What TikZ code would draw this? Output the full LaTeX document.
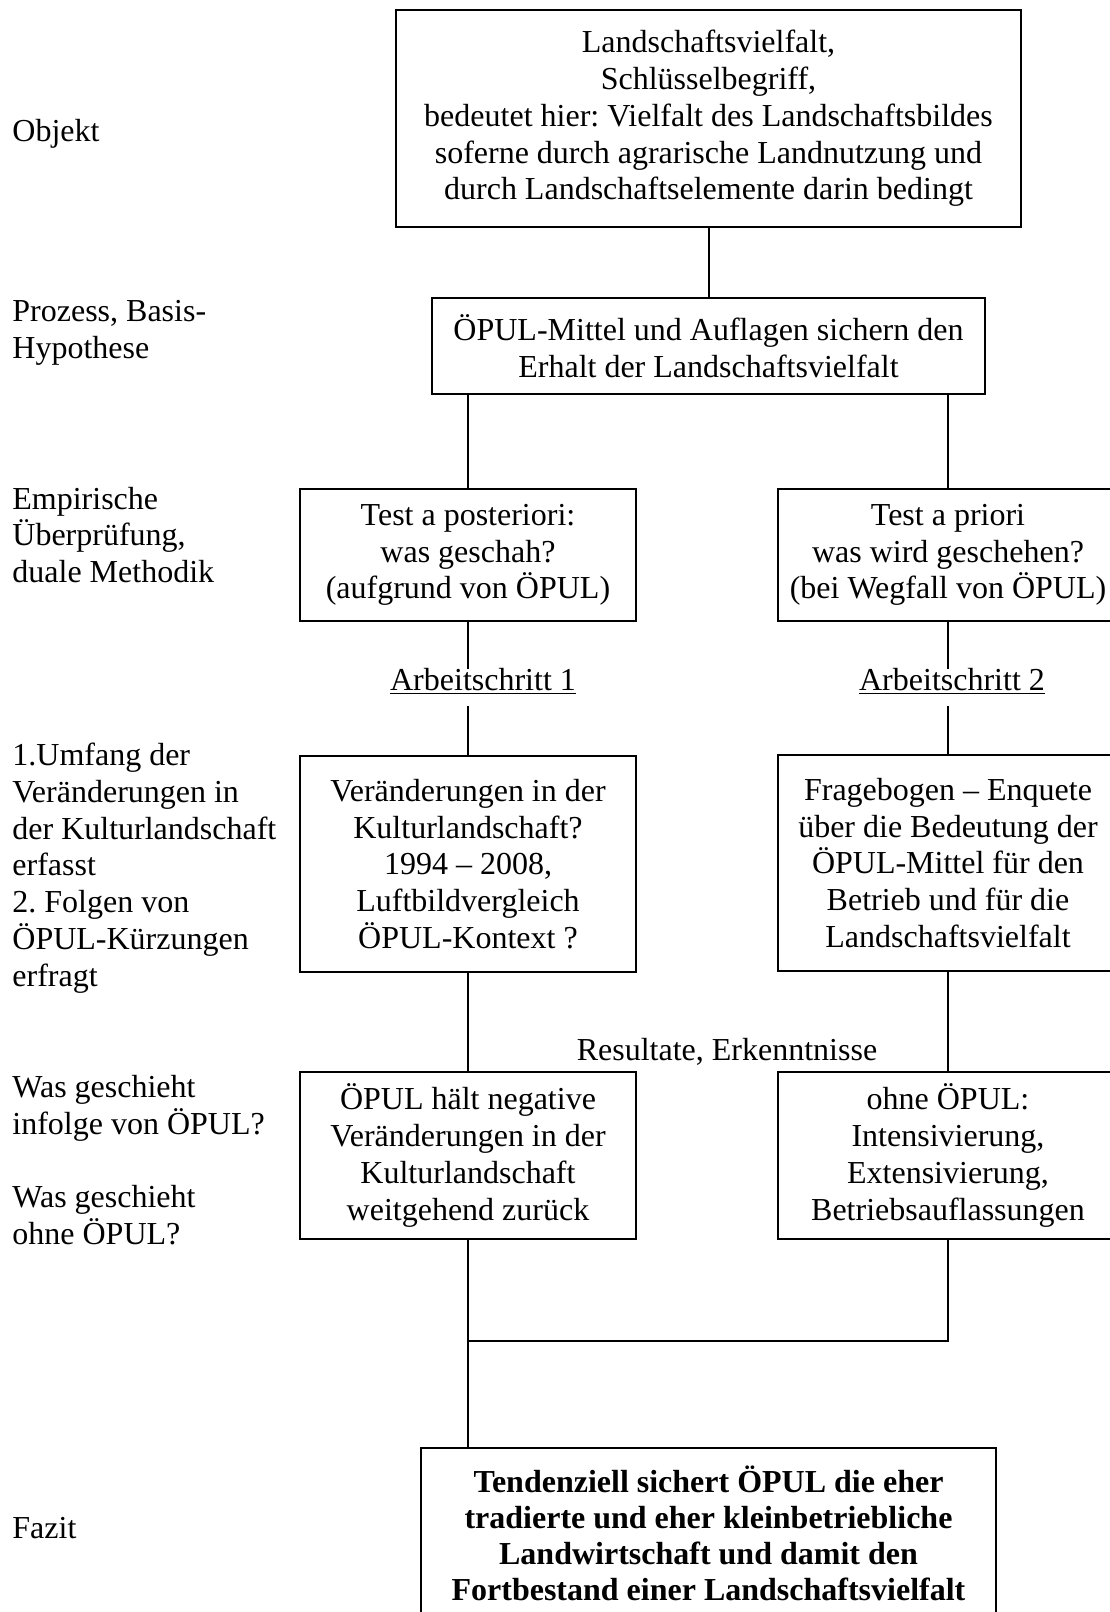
\documentclass[tikz,border=0pt]{standalone}
\usepackage{fontspec}
\setmainfont{Liberation Serif}
\frenchspacing
\begin{document}
\frenchspacing
\begin{tikzpicture}[x=0.5pt,y=-0.5pt,
  every node/.style={font=\fontsize{16}{18.4}\selectfont\frenchspacing},
  box/.style 2 args={draw, line width=1pt, inner sep=0pt, align=center,
    minimum width=#1*0.5pt, minimum height=#2*0.5pt},
  steplabel/.style={inner sep=0pt, anchor=base, text height=10.5pt, text depth=8pt},
  lefttext/.style={anchor=west, align=left, inner sep=0pt},
  conn/.style={line width=1pt}]
\useasboundingbox (0,0) rectangle (1109,1612);

% left column labels
\node[lefttext] (lobj) at (12,134) {Objekt};
\node[lefttext] (lproz) at (12,333) {Prozess, Basis-\\Hypothese};
\node[lefttext] (lemp) at (12,535) {Empirische\\Überprüfung,\\duale Methodik};
\node[lefttext] (lumf) at (12,868) {1.Umfang der\\Veränderungen in\\der Kulturlandschaft\\erfasst\\2. Folgen von\\ÖPUL-Kürzungen\\erfragt};
\node[lefttext] (lwas) at (12,1160) {Was geschieht\\infolge von ÖPUL?\\[18.4pt]Was geschieht\\ohne ÖPUL?};
\node[lefttext] (lfaz) at (12,1528) {Fazit};

% boxes
\node[box={625}{217}] (obj) at (708.5,118.5) {Landschaftsvielfalt,\\Schlüsselbegriff,\\bedeutet hier: Vielfalt des Landschaftsbildes\\soferne durch agrarische Landnutzung und\\durch Landschaftselemente darin bedingt};
\node[box={553}{96}] (hyp) at (708.5,346) {ÖPUL-Mittel und Auflagen sichern den\\Erhalt der Landschaftsvielfalt};
\node[box={336}{132}] (tpost) at (468,555) {Test a posteriori:\\was geschah?\\(aufgrund von ÖPUL)};
\node[box={340}{132}] (tprio) at (948,555) {Test a priori\\was wird geschehen?\\(bei Wegfall von ÖPUL)};
\node[steplabel] (as1) at (483,690) {\underline{Arbeitschritt 1}};
\node[steplabel] (as2) at (952,690) {\underline{Arbeitschritt 2}};
\node[box={336}{216}] (veraend) at (468,864) {Veränderungen in der\\Kulturlandschaft?\\1994 – 2008,\\Luftbildvergleich\\ÖPUL-Kontext ?};
\node[box={340}{216}] (frage) at (948,863) {Fragebogen – Enquete\\über die Bedeutung der\\ÖPUL-Mittel für den\\Betrieb und für die\\Landschaftsvielfalt};
\node[anchor=base, inner sep=0pt] (res) at (727,1060) {Resultate, Erkenntnisse};
\node[box={336}{167}] (halt) at (468,1155.5) {ÖPUL hält negative\\Veränderungen in der\\Kulturlandschaft\\weitgehend zurück};
\node[box={340}{167}] (ohne) at (948,1155.5) {ohne ÖPUL:\\Intensivierung,\\Extensivierung,\\Betriebsauflassungen};
\node[box={575}{171}, font=\fontsize{16}{18}\selectfont\bfseries\frenchspacing] (fazit) at (708.5,1533) {Tendenziell sichert ÖPUL die eher\\tradierte und eher kleinbetriebliche\\Landwirtschaft und damit den\\Fortbestand einer Landschaftsvielfalt};

% connectors
\draw[conn] (obj.south) -- (hyp.north);
\draw[conn] (hyp.south -| tpost.north) -- (tpost.north);
\draw[conn] (hyp.south -| tprio.north) -- (tprio.north);
\draw[conn] (tpost.south) -- (tpost.south |- as1.north);
\draw[conn] (tpost.south |- as1.south) -- (veraend.north);
\draw[conn] (tprio.south) -- (tprio.south |- as2.north);
\draw[conn] (tprio.south |- as2.south) -- (frage.north);
\draw[conn] (veraend.south) -- (halt.north);
\draw[conn] (frage.south) -- (ohne.north);
\coordinate (mj) at (468,1341);
\draw[conn] (ohne.south) -- (ohne.south |- mj) -- (mj);
\draw[conn] (halt.south) -- (fazit.north -| halt.south);
\end{tikzpicture}
\end{document}
